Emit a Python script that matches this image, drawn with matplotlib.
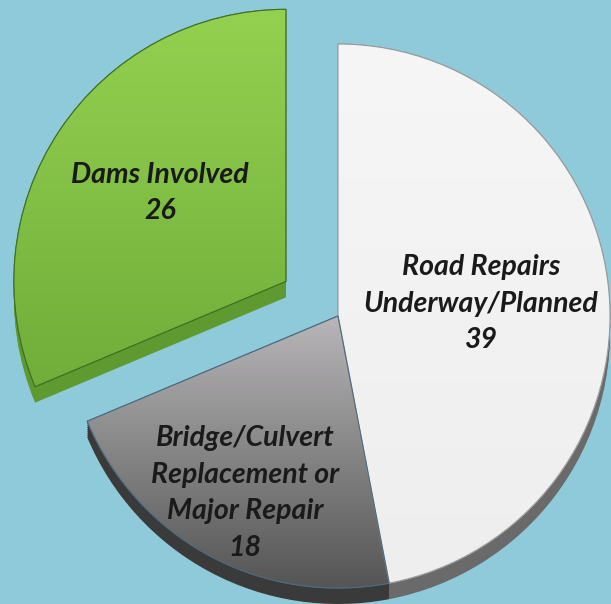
import matplotlib
matplotlib.use('Agg')
import matplotlib.pyplot as plt
import numpy as np

# chart values
labels = ['Road Repairs\nUnderway/Planned', 'Bridge/Culvert\nReplacement or\nMajor Repair', 'Dams Involved']
values = [39, 18, 26]
explode_frac = [0.0, 0.0, 0.23]

# colours (top, bottom of gradient) and side colour
tops = ['#f6f6f6', '#b8b6b8', '#94d150']
bottoms = ['#eeeeee', '#555555', '#70ad3a']
sides = ['#6a6a6a', '#3a3a3a', '#5f9a30']
edges = ['#9a9a9a', '#4c6a80', '#3f7024']
bg = '#8fcadb'

W, H = 611, 604
center = (338, H - 316)
radius = 272
depth = 16

fig = plt.figure(figsize=(W / 100, H / 100), dpi=100)
fig.patch.set_facecolor(bg)
ax = fig.add_axes([0, 0, 1, 1])
ax.set_facecolor(bg)

# pie's explode is in data units, so scale by the radius
explode = [e * radius for e in explode_frac]

# side of the disc: same pie shifted down, darker
side_wedges, _ = ax.pie(values, explode=explode, startangle=90, counterclock=False,
                        center=(center[0], center[1] - depth), radius=radius,
                        colors=sides, wedgeprops=dict(linewidth=0), frame=True)
for w in side_wedges:
    w.set_zorder(1)

# top face
wedges, _ = ax.pie(values, explode=explode, startangle=90, counterclock=False,
                   center=center, radius=radius, colors=tops,
                   wedgeprops=dict(linewidth=0.8), frame=True)

for i, w in enumerate(wedges):
    w.set_zorder(3)
    w.set_edgecolor(edges[i])
    # walls between top face and shifted copy
    for dy in np.linspace(0, depth, 9)[1:-1]:
        ax.add_patch(matplotlib.patches.Wedge((w.center[0], w.center[1] - dy), w.r,
                                              w.theta1, w.theta2, facecolor=sides[i],
                                              linewidth=0, zorder=2))
    # vertical gradient clipped to the wedge
    grad = np.linspace(0, 1, 256).reshape(-1, 1)
    c0 = np.array(matplotlib.colors.to_rgb(tops[i]))
    c1 = np.array(matplotlib.colors.to_rgb(bottoms[i]))
    img = c1 + (c0 - c1) * grad[..., None]
    img = np.repeat(img, 2, axis=1)
    bb = w.get_path().get_extents(w.get_transform() - ax.transData)
    im = ax.imshow(img, extent=[bb.x0, bb.x1, bb.y0, bb.y1], origin='lower',
                   zorder=4, aspect='auto', interpolation='bilinear')
    im.set_clip_path(w)
    ax.add_patch(matplotlib.patches.Wedge(w.center, w.r, w.theta1, w.theta2, fill=False,
                                          edgecolor=edges[i], linewidth=0.8, zorder=5))

ax.set_xlim(0, W)
ax.set_ylim(0, H)
ax.set_aspect('equal')
ax.axis('off')

font = dict(family=['Lato', 'DejaVu Sans'], fontweight='bold', fontstyle='italic',
            color='#1a1a1a', fontsize=20.5, ha='center', va='center', zorder=10,
            linespacing=1.5)
ax.text(481, H - 304, labels[0] + '\n' + str(values[0]), **font)
ax.text(245, H - 493, labels[1] + '\n' + str(values[1]), **font)
ax.text(160, H - 193, labels[2] + '\n' + str(values[2]), **font)

fig.savefig('out.png', dpi=100, facecolor=bg)
